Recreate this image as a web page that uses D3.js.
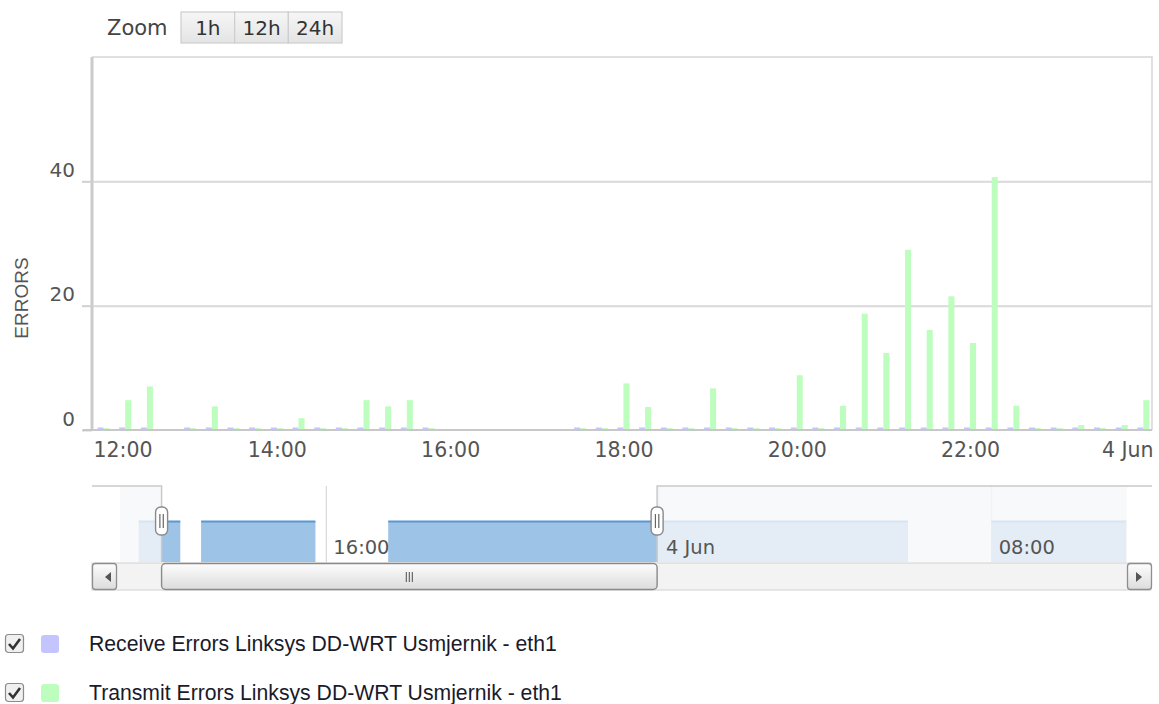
<!DOCTYPE html>
<html>
<head>
<meta charset="utf-8">
<script src="https://cdn.jsdelivr.net/npm/d3@7"></script>
<style>
  body { margin: 0; background: #fff; }
  svg { display: block; }
</style>
</head>
<body>
<svg id="chart" width="1159" height="704"></svg>
<script>
// 15 minute slots that have a reading (gaps at 12:45 and 16:00-17:15)
const slotTimes = [
  "06-03 12:00", "06-03 12:15", "06-03 12:30",
  "06-03 13:00", "06-03 13:15", "06-03 13:30", "06-03 13:45",
  "06-03 14:00", "06-03 14:15", "06-03 14:30", "06-03 14:45",
  "06-03 15:00", "06-03 15:15", "06-03 15:30", "06-03 15:45",
  "06-03 17:30", "06-03 17:45",
  "06-03 18:00", "06-03 18:15", "06-03 18:30", "06-03 18:45",
  "06-03 19:00", "06-03 19:15", "06-03 19:30", "06-03 19:45",
  "06-03 20:00", "06-03 20:15", "06-03 20:30", "06-03 20:45",
  "06-03 21:00", "06-03 21:15", "06-03 21:30", "06-03 21:45",
  "06-03 22:00", "06-03 22:15", "06-03 22:30", "06-03 22:45",
  "06-03 23:00", "06-03 23:15", "06-03 23:30", "06-03 23:45",
  "06-04 00:00"
];
const receiveErrors = [
  0.4, 0.4, 0.4,
  0.4, 0.4, 0.4, 0.4,
  0.4, 0.4, 0.4, 0.4,
  0.4, 0.4, 0.4, 0.4,
  0.4, 0.4,
  0.4, 0.4, 0.4, 0.4,
  0.4, 0.4, 0.4, 0.4,
  0.4, 0.4, 0.4, 0.4,
  0.4, 0.4, 0.4, 0.4,
  0.4, 0.4, 0.4, 0.4,
  0.4, 0.4, 0.4, 0.4,
  0.4
];
const transmitErrors = [
  0.3, 4.8, 7,
  0.3, 3.8, 0.3, 0.3,
  0.3, 1.9, 0.3, 0.3,
  4.8, 3.8, 4.8, 0.3,
  0.3, 0.3,
  7.5, 3.7, 0.3, 0.3,
  6.7, 0.3, 0.3, 0.3,
  8.8, 0.3, 3.9, 18.7,
  12.4, 29, 16.1, 21.5,
  14, 40.7, 3.9, 0.3,
  0.3, 0.8, 0.3, 0.8,
  4.8
];
const seriesNames = [
  "Receive Errors Linksys DD-WRT Usmjernik - eth1",
  "Transmit Errors Linksys DD-WRT Usmjernik - eth1"
];
const seriesColors = ["#c4c4ff", "#bdfdbd"];

const viewRange = ["06-03 11:52", "06-04 00:06"];
const yMax = 60;
const yTicks = [0, 20, 40];
const xTicks = ["06-03 12:00", "06-03 14:00", "06-03 16:00", "06-03 18:00",
  "06-03 20:00", "06-03 22:00", "06-04 00:00"];

// navigator
const navRange = ["06-03 11:03", "06-04 11:16"];
const navSelected = ["06-03 12:03", "06-03 23:58"];
const navSegments = [
  ["06-03 11:30", "06-03 12:30"],
  ["06-03 13:00", "06-03 15:45"],
  ["06-03 17:30", "06-04 06:00"],
  ["06-04 08:00", "06-04 11:15"]
];
const navLevel = 0.4;
const navTicks = ["06-03 16:00", "06-04 00:00", "06-04 08:00"];

const zoomButtons = ["1h", "12h", "24h"];

const parse = d3.timeParse("%m-%d %H:%M");
const fmtTick = d => (d.getHours() === 0 && d.getMinutes() === 0)
  ? d3.timeFormat("%-d %b")(d) : d3.timeFormat("%H:%M")(d);

const svg = d3.select("#chart");
const labelFont = "'DejaVu Sans', Verdana, sans-serif";
const plot = { left: 92, right: 1152, top: 57, bottom: 430 };

const x = d3.scaleTime().domain(viewRange.map(parse)).range([plot.left, plot.right]);
const y = d3.scaleLinear().domain([0, yMax]).range([plot.bottom, plot.top]);
const sub = d3.scaleBand().domain([0, 1]).range([-6, 6]);

// zoom buttons
svg.append("text")
  .attr("x", 107).attr("y", 35)
  .attr("font-family", labelFont).attr("font-size", 21).attr("fill", "#444")
  .text("Zoom");
const grad = svg.append("defs").append("linearGradient")
  .attr("id", "btn").attr("x1", 0).attr("y1", 0).attr("x2", 0).attr("y2", 1);
grad.append("stop").attr("offset", 0).attr("stop-color", "#f6f6f6");
grad.append("stop").attr("offset", 1).attr("stop-color", "#e4e4e4");
const btnX = d3.scaleBand().domain(zoomButtons).range([181, 342]);
const btn = svg.append("g").selectAll("g").data(zoomButtons).join("g")
  .attr("transform", d => `translate(${btnX(d)},12)`);
btn.append("rect")
  .attr("width", btnX.bandwidth()).attr("height", 31)
  .attr("fill", "url(#btn)").attr("stroke", "#cdcdcd").attr("stroke-width", 1.2);
btn.append("text")
  .attr("x", btnX.bandwidth() / 2).attr("y", 23).attr("text-anchor", "middle")
  .attr("font-family", labelFont).attr("font-size", 20).attr("fill", "#333")
  .text(d => d);

// grid
const grid = svg.append("g").attr("transform", `translate(${plot.left},0)`)
  .call(d3.axisLeft(y).tickValues(yTicks.slice(1)).tickSize(-(plot.right - plot.left)).tickFormat(""));
grid.select(".domain").remove();
grid.selectAll("line").attr("stroke", "#d9d9d9").attr("stroke-width", 2);

// plot border
svg.append("path")
  .attr("d", `M${plot.left},${plot.top}H${plot.right}V${plot.bottom}`)
  .attr("fill", "none").attr("stroke", "#d6d6d6").attr("stroke-width", 1.5);

// bars
const rows = slotTimes.map((t, i) => ({ t: parse(t), v: [receiveErrors[i], transmitErrors[i]] }));
svg.append("g").selectAll("g").data(rows).join("g")
  .selectAll("rect").data(d => d.v.map((v, s) => ({ t: d.t, v, s }))).join("rect")
  .attr("x", d => x(d.t) + sub(d.s))
  .attr("width", sub.bandwidth())
  .attr("y", d => y(d.v))
  .attr("height", d => y(0) - y(d.v))
  .attr("fill", d => seriesColors[d.s]);

// y axis
const yAxis = svg.append("g").attr("transform", `translate(${plot.left},0)`)
  .call(d3.axisLeft(y).tickValues(yTicks).tickSize(10).tickPadding(7));
yAxis.select(".domain").attr("d", `M0,${plot.top}V${plot.bottom}`)
  .attr("stroke", "#cbcbcb").attr("stroke-width", 3);
yAxis.selectAll(".tick line").attr("stroke", "#d0d0d0").attr("stroke-width", 2);
yAxis.selectAll(".tick text")
  .attr("y", -5).attr("dy", 0)
  .attr("font-family", labelFont).attr("font-size", 20).attr("fill", "#555");

svg.append("text")
  .attr("transform", "translate(28,298) rotate(-90)")
  .attr("text-anchor", "middle")
  .attr("font-family", "'Liberation Sans', Arial, sans-serif").attr("font-size", 19)
  .attr("fill", "#555")
  .text("ERRORS");

// x axis
const xAxis = svg.append("g").attr("transform", `translate(0,${plot.bottom})`)
  .call(d3.axisBottom(x).tickValues(xTicks.map(parse)).tickSize(0).tickFormat(fmtTick));
xAxis.select(".domain").attr("d", `M${plot.left - 9},0H${plot.right}`)
  .attr("stroke", "#c8c8c8").attr("stroke-width", 2);
xAxis.selectAll(".tick text")
  .attr("y", 27).attr("dy", 0)
  .attr("font-family", labelFont).attr("font-size", 20.5).attr("fill", "#555")
  .each(function (d) {
    const w = this.getComputedTextLength();
    const cx = x(d);
    if (cx - w / 2 < plot.left) d3.select(this).attr("text-anchor", "start").attr("x", plot.left + 1 - cx);
    if (cx + w / 2 > plot.right) d3.select(this).attr("text-anchor", "end").attr("x", plot.right + 1 - cx);
  });

// navigator
const nav = { left: 120, right: 1127, top: 486, bottom: 562 };
const nx = d3.scaleTime().domain(navRange.map(parse)).range([nav.left, nav.right]);
const ny = d3.scaleLinear().domain([0, 0.75]).range([nav.bottom, nav.top]);
const sel = navSelected.map(parse).map(nx);
const navG = svg.append("g");

const navGrid = navG.append("g").attr("transform", `translate(0,${nav.bottom})`)
  .call(d3.axisBottom(nx).tickValues(navTicks.map(parse)).tickSize(-(nav.bottom - nav.top)).tickFormat(""));
navGrid.select(".domain").remove();
navGrid.selectAll("line").attr("stroke", "#d8d8d8").attr("stroke-width", 1.2);

const navArea = d3.area().x(d => nx(d)).y0(nav.bottom).y1(ny(navLevel));
navG.append("g").selectAll("path").data(navSegments.map(s => s.map(parse))).join("path")
  .attr("d", navArea).attr("fill", "#9dc3e6");
navG.append("g").selectAll("path").data(navSegments.map(s => s.map(parse))).join("path")
  .attr("d", d3.line().x(d => nx(d)).y(ny(navLevel)))
  .attr("fill", "none").attr("stroke", "#5b97d2").attr("stroke-width", 2);

// masks outside the selected window
navG.append("rect").attr("x", nav.left).attr("y", nav.top)
  .attr("width", sel[0] - nav.left).attr("height", nav.bottom - nav.top)
  .attr("fill", "rgba(246,247,249,0.8)");
navG.append("rect").attr("x", sel[1]).attr("y", nav.top)
  .attr("width", nav.right - sel[1]).attr("height", nav.bottom - nav.top)
  .attr("fill", "rgba(246,247,249,0.8)");

// navigator labels on top of masks
const navLabels = navG.append("g").attr("transform", `translate(0,${nav.bottom})`)
  .call(d3.axisBottom(nx).tickValues(navTicks.map(parse)).tickSize(0).tickFormat(fmtTick));
navLabels.select(".domain").remove();
navLabels.selectAll("text")
  .attr("text-anchor", "start").attr("x", 7).attr("y", -8).attr("dy", 0)
  .attr("font-family", labelFont).attr("font-size", 19.5).attr("fill", "#555");

navG.append("path")
  .attr("d", `M${plot.left},${nav.top}H${sel[0]}V${nav.bottom}M${sel[1]},${nav.bottom}V${nav.top}H${plot.right}`)
  .attr("fill", "none").attr("stroke", "#c9c9c9").attr("stroke-width", 1.5);

// scrollbar
const sb = { top: 563, h: 27 };
const sgrad = svg.select("defs").append("linearGradient")
  .attr("id", "thumb").attr("x1", 0).attr("y1", 0).attr("x2", 0).attr("y2", 1);
sgrad.append("stop").attr("offset", 0).attr("stop-color", "#fdfdfd");
sgrad.append("stop").attr("offset", 1).attr("stop-color", "#dcdcdc");
svg.append("rect").attr("x", plot.left).attr("y", sb.top).attr("width", plot.right - plot.left - 1)
  .attr("height", sb.h).attr("fill", "#f3f3f3").attr("stroke", "#d0d0d0");
[[plot.left, "M111,572L105,577L111,582Z"], [nav.right, "M1136,572L1142,577L1136,582Z"]]
  .forEach(([bx, arrow]) => {
    svg.append("rect").attr("x", bx + 0.5).attr("y", sb.top + 0.5).attr("width", 24).attr("height", sb.h - 1)
      .attr("rx", 3).attr("fill", "url(#thumb)").attr("stroke", "#8e8e8e").attr("stroke-width", 1.3);
    svg.append("path").attr("d", arrow).attr("fill", "#555");
  });
svg.append("rect").attr("x", sel[0]).attr("y", sb.top + 0.5).attr("width", sel[1] - sel[0])
  .attr("height", sb.h - 1).attr("rx", 4)
  .attr("fill", "url(#thumb)").attr("stroke", "#8a8a8a").attr("stroke-width", 1.4);
const mid = (sel[0] + sel[1]) / 2;
svg.append("g").selectAll("line").data([-3, 0, 3]).join("line")
  .attr("x1", d => mid + d).attr("x2", d => mid + d)
  .attr("y1", 572).attr("y2", 582).attr("stroke", "#666").attr("stroke-width", 1.2);

// handles
const hnd = svg.append("g").selectAll("g").data(sel).join("g")
  .attr("transform", d => `translate(${d},521)`);
hnd.append("rect").attr("x", -6).attr("y", -14).attr("width", 12).attr("height", 28).attr("rx", 5)
  .attr("fill", "#fff").attr("stroke", "#8a8a8a").attr("stroke-width", 1.4);
hnd.selectAll("line").data([-1.7, 1.7]).join("line")
  .attr("x1", d => d).attr("x2", d => d).attr("y1", -7).attr("y2", 7)
  .attr("stroke", "#666").attr("stroke-width", 1.2);

// legend
const leg = svg.append("g").selectAll("g").data(seriesNames).join("g")
  .attr("transform", (d, i) => `translate(0,${644 + i * 49})`);
leg.append("rect").attr("x", 5.5).attr("y", -9.5).attr("width", 18).attr("height", 18).attr("rx", 3)
  .attr("fill", "#f0f0f0").attr("stroke", "#8c8c8c").attr("stroke-width", 1.2);
leg.append("path").attr("d", "M9,0L13,4.5L20,-5")
  .attr("fill", "none").attr("stroke", "#333").attr("stroke-width", 2.6);
leg.append("rect").attr("x", 41).attr("y", -9).attr("width", 18).attr("height", 18).attr("rx", 3)
  .attr("fill", (d, i) => seriesColors[i]);
leg.append("text").attr("x", 89).attr("y", 7)
  .attr("font-family", "'Liberation Sans', Arial, sans-serif").attr("font-size", 21.2)
  .attr("fill", "#1a1a2a")
  .text(d => d);
</script>
</body>
</html>
